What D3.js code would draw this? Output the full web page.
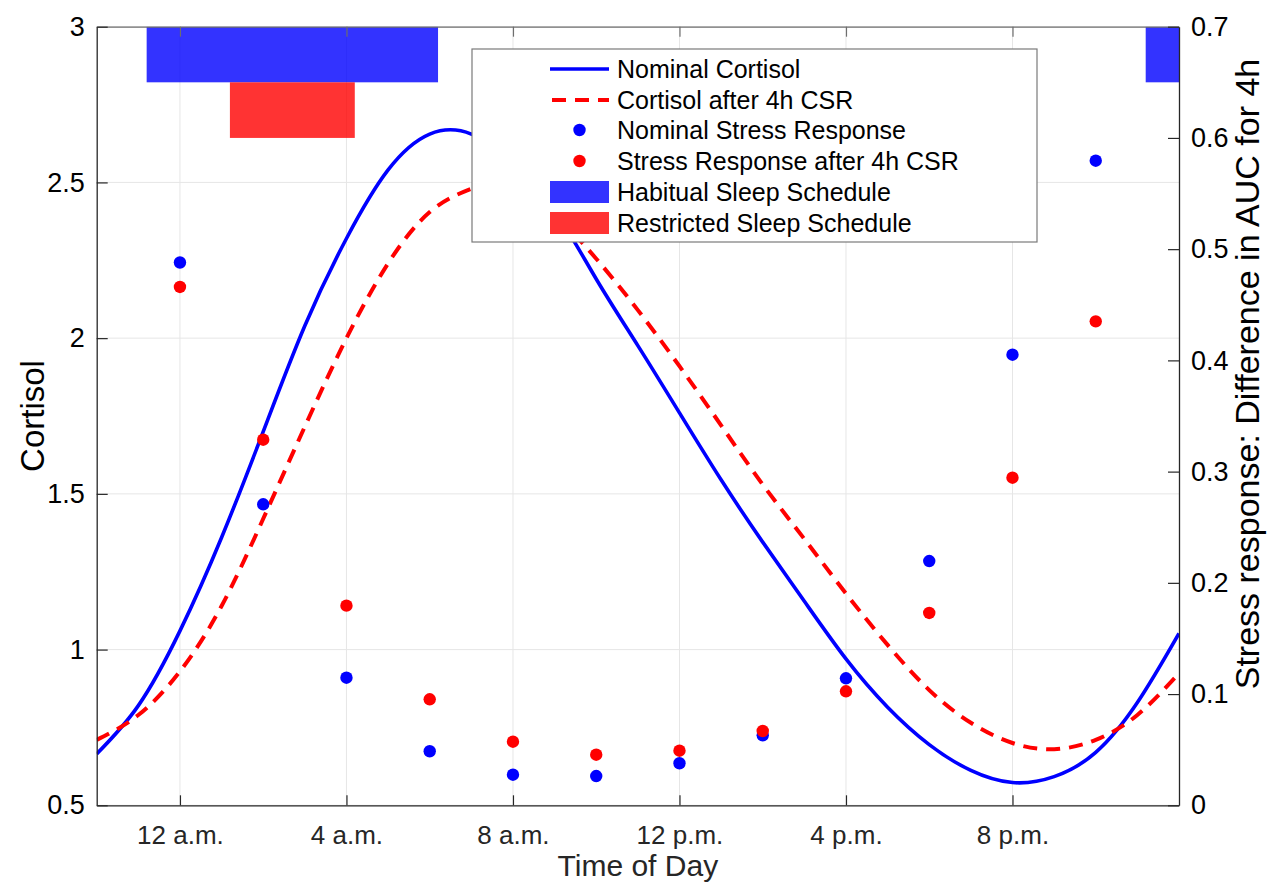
<!DOCTYPE html>
<html>
<head>
<meta charset="utf-8">
<script src="https://cdn.jsdelivr.net/npm/d3@7"></script>
<style>
  html, body { margin: 0; padding: 0; background: #fff; }
  svg { display: block; font-family: "Liberation Sans", Arial, Helvetica, sans-serif; }
</style>
</head>
<body>
<svg id="chart" width="1269" height="882"></svg>
<script>
// ---- data ----
const hours = [-2,-1,0,1,2,3,4,5,6,7,8,9,10,11,12,13,14,15,16,17,18,19,20,21,22,23,24];
const nominalCortisol = [0.665,0.82,1.06,1.36,1.70,2.04,2.32,2.54,2.655,2.655,2.56,2.41,2.19,1.976,1.76,1.545,1.345,1.155,0.97,0.815,0.695,0.612,0.573,0.592,0.67,0.83,1.052];
const csrCortisol = [0.71,0.79,0.93,1.14,1.42,1.716,2.00,2.24,2.405,2.48,2.50,2.40,2.255,2.09,1.91,1.72,1.53,1.355,1.18,1.015,0.87,0.765,0.70,0.68,0.71,0.79,0.924];
const stressHours = [0,2,4,6,8,10,12,14,16,18,20,22];
const nominalStress = [0.488,0.2706,0.1147,0.0486,0.0275,0.0263,0.0378,0.0629,0.1142,0.2196,0.4051,0.5795];
const csrStress = [0.466,0.3287,0.1795,0.0953,0.0572,0.0455,0.0491,0.0668,0.1025,0.1729,0.2945,0.4351];
const habitualSleep = [[-0.8,6.2],[23.2,24]];
const restrictedSleep = [[1.2,4.2]];
const xTickValues = [0,4,8,12,16,20];
const xTickLabels = ["12 a.m.","4 a.m.","8 a.m.","12 p.m.","4 p.m.","8 p.m."];
const yLeftTicks = [0.5,1,1.5,2,2.5,3];
const yRightTicks = [0,0.1,0.2,0.3,0.4,0.5,0.6,0.7];
const legendLabels = ["Nominal Cortisol","Cortisol after 4h CSR","Nominal Stress Response","Stress Response after 4h CSR","Habitual Sleep Schedule","Restricted Sleep Schedule"];

// ---- layout ----
const L = 96.7, R = 1179, T = 26.7, B = 805.3;
const svg = d3.select("#chart");
const x = d3.scaleLinear().domain([-2,24]).range([L,R]);
const yL = d3.scaleLinear().domain([0.5,3]).range([B,T]);
const yR = d3.scaleLinear().domain([0,0.7]).range([B,T]);
const axisCol = "#262626";
const blue = "#0000ff", red = "#ff0000";
const font = "Liberation Sans, Arial, sans-serif";

// grid
const grid = svg.append("g");
xTickValues.forEach(v => grid.append("line").attr("x1",x(v)).attr("x2",x(v)).attr("y1",T).attr("y2",B)
  .attr("stroke","#e6e6e6").attr("stroke-width",1));
yLeftTicks.forEach(v => grid.append("line").attr("x1",L).attr("x2",R).attr("y1",yL(v)).attr("y2",yL(v))
  .attr("stroke","#e6e6e6").attr("stroke-width",1));

svg.append("defs").append("clipPath").attr("id","plotclip")
  .append("rect").attr("x",L).attr("y",T).attr("width",R-L).attr("height",B-T);
const plot = svg.append("g").attr("clip-path","url(#plotclip)");

// sleep bars (right axis units)
habitualSleep.forEach(s => plot.append("rect")
  .attr("x",x(Math.max(s[0],-2))).attr("width",x(s[1])-x(Math.max(s[0],-2)))
  .attr("y",yR(0.7)).attr("height",yR(0.65)-yR(0.7))
  .attr("fill",blue).attr("fill-opacity",0.8));
restrictedSleep.forEach(s => plot.append("rect")
  .attr("x",x(s[0])).attr("width",x(s[1])-x(s[0]))
  .attr("y",yR(0.65)).attr("height",yR(0.6)-yR(0.65))
  .attr("fill",red).attr("fill-opacity",0.8));

// curves
const lineL = d3.line().x(d=>x(d[0])).y(d=>yL(d[1])).curve(d3.curveNatural);
plot.append("path").datum(hours.map((h,i)=>[h,nominalCortisol[i]]))
  .attr("d",lineL).attr("fill","none").attr("stroke",blue).attr("stroke-width",3.6);
plot.append("path").datum(hours.map((h,i)=>[h,csrCortisol[i]]))
  .attr("d",lineL).attr("fill","none").attr("stroke",red).attr("stroke-width",4)
  .attr("stroke-dasharray","14,9");

// dots
plot.selectAll(".nd").data(stressHours).enter().append("circle")
  .attr("cx",d=>x(d)).attr("cy",(d,i)=>yR(nominalStress[i])).attr("r",6.2).attr("fill",blue);
plot.selectAll(".cd").data(stressHours).enter().append("circle")
  .attr("cx",d=>x(d)).attr("cy",(d,i)=>yR(csrStress[i])).attr("r",6.2).attr("fill",red);

// bottom axis
const xAxis = d3.axisBottom(x).tickValues(xTickValues).tickFormat((d,i)=>xTickLabels[i]).tickSizeInner(-10).tickSizeOuter(0).tickPadding(20);
const gx = svg.append("g").attr("transform",`translate(0,${B})`).call(xAxis);
gx.select(".domain").attr("stroke",axisCol).attr("stroke-width",1.3);
gx.selectAll(".tick line").attr("stroke",axisCol).attr("stroke-width",1.2);
gx.selectAll("text").attr("font-size",26).attr("fill",axisCol).attr("font-family",font);
// top axis (mirrored ticks)
const xTop = d3.axisTop(x).tickValues(xTickValues).tickFormat("").tickSizeInner(-10).tickSizeOuter(0);
const gt = svg.append("g").attr("transform",`translate(0,${T})`).call(xTop);
gt.select(".domain").attr("stroke","#6e6e6e").attr("stroke-width",1.2);
gt.selectAll(".tick line").attr("stroke","#6e6e6e").attr("stroke-width",1.2);
// left axis
const yAxisL = d3.axisLeft(yL).tickValues(yLeftTicks).tickFormat(d3.format("~g")).tickSizeInner(-11).tickSizeOuter(0).tickPadding(12);
const gl = svg.append("g").attr("transform",`translate(${L},0)`).call(yAxisL);
gl.select(".domain").attr("stroke",axisCol).attr("stroke-width",1.3);
gl.selectAll(".tick line").attr("stroke",axisCol).attr("stroke-width",1.2);
gl.selectAll("text").attr("font-size",27).attr("fill","#000").attr("font-family",font);
// right axis
const yAxisR = d3.axisRight(yR).tickValues(yRightTicks).tickFormat(d3.format("~g")).tickSizeInner(-11).tickSizeOuter(0).tickPadding(12);
const gr = svg.append("g").attr("transform",`translate(${R},0)`).call(yAxisR);
gr.select(".domain").attr("stroke",axisCol).attr("stroke-width",1.3);
gr.selectAll(".tick line").attr("stroke",axisCol).attr("stroke-width",1.2);
gr.selectAll("text").attr("font-size",27).attr("fill","#000").attr("font-family",font);

// axis labels
svg.append("text").attr("x",(L+R)/2).attr("y",876).attr("text-anchor","middle")
  .attr("font-size",30).attr("fill",axisCol).text("Time of Day");
svg.append("text").attr("transform",`translate(44,${(T+B)/2}) rotate(-90)`).attr("text-anchor","middle")
  .attr("font-size",33).attr("fill","#000").text("Cortisol");
svg.append("text").attr("transform",`translate(1259,374) rotate(-90)`).attr("text-anchor","middle")
  .attr("font-size",34).attr("fill","#000").text("Stress response: Difference in AUC for 4h");

// legend
const lg = svg.append("g");
lg.append("rect").attr("x",472).attr("y",49).attr("width",565).attr("height",193)
  .attr("fill","#fff").attr("stroke","#7a7a7a").attr("stroke-width",1.2);
const rowY = [69,100,130,161,192,223];
const sx1 = 550, sx2 = 609, tx = 617;
lg.append("line").attr("x1",sx1).attr("x2",sx2).attr("y1",rowY[0]).attr("y2",rowY[0]).attr("stroke",blue).attr("stroke-width",3.6);
lg.append("line").attr("x1",sx1).attr("x2",sx2).attr("y1",rowY[1]).attr("y2",rowY[1]).attr("stroke",red).attr("stroke-width",4).attr("stroke-dasharray","14,9").attr("stroke-dashoffset",-2);
lg.append("circle").attr("cx",(sx1+sx2)/2).attr("cy",rowY[2]).attr("r",6.2).attr("fill",blue);
lg.append("circle").attr("cx",(sx1+sx2)/2).attr("cy",rowY[3]).attr("r",6.2).attr("fill",red);
lg.append("rect").attr("x",sx1).attr("y",rowY[4]-11).attr("width",sx2-sx1).attr("height",22).attr("fill",blue).attr("fill-opacity",0.8);
lg.append("rect").attr("x",sx1).attr("y",rowY[5]-11).attr("width",sx2-sx1).attr("height",22).attr("fill",red).attr("fill-opacity",0.8);
legendLabels.forEach((t,i)=> lg.append("text").attr("x",tx).attr("y",rowY[i]).attr("dy","0.36em")
  .attr("font-size",25).attr("fill","#000").text(t));
</script>
</body>
</html>
